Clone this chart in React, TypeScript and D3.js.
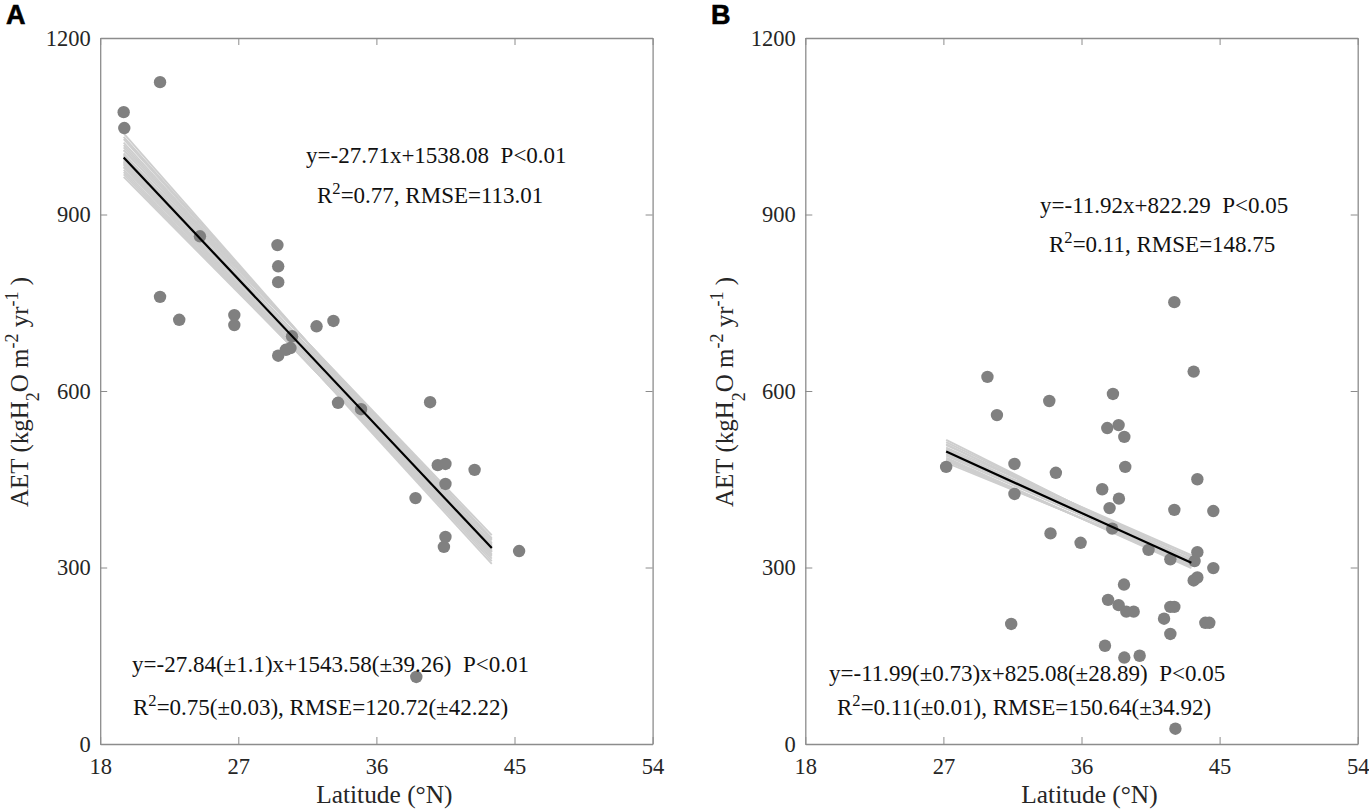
import { useEffect, useRef } from "react";
import * as d3 from "d3";

// Panel A values
const latA = [19.53, 19.57, 21.9, 21.9, 23.15, 24.5, 26.74, 26.74, 29.55, 29.6, 29.6, 29.6, 30.1, 30.4, 30.5, 32.1, 33.2, 33.5, 35.0, 39.5, 38.55, 40.0, 40.5, 42.4, 40.5, 40.5, 40.4, 45.3, 38.6];
const aetA = [1074, 1047, 1125, 760, 721, 863, 729, 712, 848, 812, 785, 660, 670, 673, 693, 710, 719, 580, 569, 581, 418, 474, 476, 466, 442, 352, 335, 328, 114];
const fitLatA = [19.53, 43.52];
const fitAetA = [997, 333];
const bootStartA = [1038, 1032, 1028, 1022, 1018, 1014, 1009, 1004, 1000, 996, 992, 988, 984, 980, 990, 986, 981, 976, 972, 968, 964, 1010, 1002, 995];
const bootEndA = [326, 331, 336, 341, 346, 350, 355, 348, 342, 338, 330, 326, 322, 336, 306, 311, 315, 319, 322, 327, 332, 340, 335, 328];

// Panel B values
const latB = [27.18, 29.87, 30.49, 31.63, 31.63, 31.42, 33.9, 34.33, 33.98, 35.94, 38.05, 37.68, 38.42, 38.79, 38.85, 37.35, 38.44, 37.83, 38.0, 40.37, 41.79, 42.05, 43.55, 44.59, 43.31, 42.05, 43.55, 43.37, 44.59, 43.55, 43.31, 38.77, 37.73, 38.42, 38.92, 39.4, 41.79, 42.05, 41.38, 41.79, 44.07, 44.33, 37.53, 38.79, 39.79, 42.12];
const aetB = [471, 624, 559, 476, 425, 204, 583, 461, 358, 342, 595, 537, 542, 522, 471, 433, 417, 401, 366, 330, 314, 398, 450, 396, 633, 751, 326, 311, 299, 283, 278, 271, 245, 236, 225, 225, 233, 233, 213, 187, 206, 206, 167, 147, 150, 26];
const fitLatB = [27.18, 43.16];
const fitAetB = [497, 308];
const bootStartB = [517, 513, 508, 504, 500, 497, 494, 490, 487, 483, 478, 481, 485, 492, 502, 510];
const bootEndB = [308, 312, 317, 321, 318, 314, 310, 306, 299, 303, 308, 304, 301, 312, 310, 306];

const latTicks = [18, 27, 36, 45, 54];
const aetTicks = [0, 300, 600, 900, 1200];

const width = 1369;
const height = 810;
const serif = "'Liberation Serif', serif";

type Part = [string, ("sup" | "sub")?];
interface Note {
  x: number;
  y: number;
  parts: Part[];
}

const notesA: Note[] = [
  { x: 306, y: 163, parts: [["y=-27.71x+1538.08\u00a0\u00a0P<0.01"]] },
  { x: 317, y: 203, parts: [["R"], ["2", "sup"], ["=0.77, RMSE=113.01"]] },
  { x: 132, y: 672, parts: [["y=-27.84(±1.1)x+1543.58(±39.26)\u00a0\u00a0P<0.01"]] },
  { x: 133, y: 715, parts: [["R"], ["2", "sup"], ["=0.75(±0.03), RMSE=120.72(±42.22)"]] },
];
const notesB: Note[] = [
  { x: 1040, y: 213, parts: [["y=-11.92x+822.29\u00a0\u00a0P<0.05"]] },
  { x: 1049, y: 252, parts: [["R"], ["2", "sup"], ["=0.11, RMSE=148.75"]] },
  { x: 829, y: 681, parts: [["y=-11.99(±0.73)x+825.08(±28.89)\u00a0\u00a0P<0.05"]] },
  { x: 837, y: 715, parts: [["R"], ["2", "sup"], ["=0.11(±0.01), RMSE=150.64(±34.92)"]] },
];
const yLabelParts: Part[] = [["AET (kgH"], ["2", "sub"], ["O m"], ["-2", "sup"], ["\u00a0yr"], ["-1", "sup"], ["\u00a0)"]];

function addParts(
  text: d3.Selection<SVGTextElement, unknown, null, undefined>,
  parts: Part[],
  size: number,
  supRise: number,
  subDrop: number
) {
  let shift = 0;
  parts.forEach(([str, kind]) => {
    const target = kind === "sup" ? -supRise * size : kind === "sub" ? subDrop * size : 0;
    text
      .append("tspan")
      .attr("dy", target - shift)
      .attr("font-size", kind ? size * 0.72 : size)
      .text(str);
    shift = target;
  });
}

interface PanelProps {
  letter: string;
  letterX: number;
  left: number;
  lat: number[];
  aet: number[];
  fitLat: number[];
  fitAet: number[];
  bootStart: number[];
  bootEnd: number[];
  notes: Note[];
}

function Panel({ letter, letterX, left, lat, aet, fitLat, fitAet, bootStart, bootEnd, notes }: PanelProps) {
  const ref = useRef<SVGGElement>(null);

  useEffect(() => {
    if (!ref.current) return;
    const g = d3.select(ref.current);
    g.selectAll("*").remove();

    const top = 38;
    const bottom = 744;
    const right = left + 552.4;
    const x = d3.scaleLinear().domain([18, 54]).range([left, right]);
    const y = d3.scaleLinear().domain([0, 1200]).range([bottom, top]);

    // Box with inward ticks on all four sides
    const axes: [d3.Axis<d3.NumberValue>, number, number][] = [
      [d3.axisBottom(x).tickValues(latTicks).tickFormat(d3.format("d")), 0, bottom],
      [d3.axisTop(x).tickValues(latTicks).tickFormat(() => ""), 0, top],
      [d3.axisLeft(y).tickValues(aetTicks).tickFormat(d3.format("d")), left, 0],
      [d3.axisRight(y).tickValues(aetTicks).tickFormat(() => ""), right, 0],
    ];
    axes.forEach(([axis, tx, ty], i) => {
      const a = g
        .append("g")
        .attr("transform", `translate(${tx},${ty})`)
        .call(axis.tickSizeInner(-7).tickSizeOuter(0).tickPadding(i < 2 ? 14 : 9.5));
      a.selectAll(".domain").attr("stroke", "#8c8c8c").attr("stroke-width", 1.3);
      a.selectAll(".tick line").attr("stroke", "#8c8c8c").attr("stroke-width", 1);
      a.selectAll("text").attr("font-family", serif).attr("font-size", 22.5).attr("fill", "#262626");
    });

    // Resampled fits
    const line = d3
      .line<number>()
      .x((_, i) => x(fitLat[i]))
      .y((d) => y(d));
    g.append("g")
      .selectAll("path")
      .data(bootStart.map((s, i) => [s, bootEnd[i]]))
      .join("path")
      .attr("d", (d) => line(d))
      .attr("fill", "none")
      .attr("stroke", "#cecece")
      .attr("stroke-width", 1.8);

    g.append("g")
      .selectAll("circle")
      .data(lat)
      .join("circle")
      .attr("cx", (d) => x(d))
      .attr("cy", (_, i) => y(aet[i]))
      .attr("r", 6.2)
      .attr("fill", "#808080");

    g.append("path")
      .attr("d", line(fitAet))
      .attr("fill", "none")
      .attr("stroke", "#000")
      .attr("stroke-width", 2.2);

    notes.forEach((n) => {
      const t = g
        .append("text")
        .attr("x", n.x)
        .attr("y", n.y)
        .attr("font-family", serif)
        .attr("fill", "#111");
      addParts(t as any, n.parts, 23, 0.4, 0.3);
    });

    g.append("text")
      .attr("x", (left + right) / 2 + 8)
      .attr("y", 803)
      .attr("text-anchor", "middle")
      .attr("font-family", serif)
      .attr("font-size", 25.4)
      .attr("fill", "#262626")
      .text("Latitude (°N)");

    const yl = g
      .append("text")
      .attr("transform", `translate(${left - 72},507) rotate(-90)`)
      .attr("font-family", serif)
      .attr("fill", "#262626");
    addParts(yl as any, yLabelParts, 25, 0.42, 0.45);

    g.append("text")
      .attr("x", letterX)
      .attr("y", 24)
      .attr("font-family", "'Liberation Sans', sans-serif")
      .attr("font-weight", "bold")
      .attr("font-size", 27)
      .attr("stroke", "#000")
      .attr("stroke-width", 0.6)
      .text(letter);
  }, [letter, letterX, left, lat, aet, fitLat, fitAet, bootStart, bootEnd, notes]);

  return <g ref={ref} />;
}

export default function App() {
  return (
    <svg
      width={width}
      height={height}
      style={{ position: "absolute", left: 0, top: 0, background: "#fff" }}
    >
      <Panel
        letter="A"
        letterX={6}
        left={100.2}
        lat={latA}
        aet={aetA}
        fitLat={fitLatA}
        fitAet={fitAetA}
        bootStart={bootStartA}
        bootEnd={bootEndA}
        notes={notesA}
      />
      <Panel
        letter="B"
        letterX={711}
        left={805.3}
        lat={latB}
        aet={aetB}
        fitLat={fitLatB}
        fitAet={fitAetB}
        bootStart={bootStartB}
        bootEnd={bootEndB}
        notes={notesB}
      />
    </svg>
  );
}
